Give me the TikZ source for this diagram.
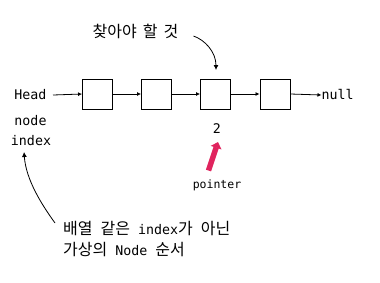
\documentclass[tikz,border=0pt]{standalone}
\usepackage{fontspec}
\setmainfont{DejaVu Sans Mono}
\newfontfamily\cjk{Noto Sans CJK KR}
\usetikzlibrary{arrows.meta}
\definecolor{ptrred}{HTML}{E0245E}
\newcommand\K[1]{{\cjk\fontsize{16}{21}\selectfont #1}}
\tikzset{
  cell/.style={draw, line width=0.9pt, minimum size=30pt, inner sep=0pt},
  lbl/.style={inner sep=0pt, font=\fontsize{13.3}{16}\selectfont},
  link/.style={line width=0.8pt, -{Latex[length=4pt,width=4pt]}},
  note/.style={line width=0.8pt, -{Latex[length=5pt,width=5pt]}},
}
\begin{document}
\begin{tikzpicture}[x=1pt,y=-1pt]
\useasboundingbox (0,0) rectangle (380,282);
\node[cell] (b1) at (97.5,94) {};
\node[cell] (b2) at (156.5,94) {};
\node[cell] (b3) at (215.5,94) {};
\node[cell] (b4) at (275,94) {};
\node[lbl, anchor=east] (head) at (46.5,95) {Head};
\node[lbl, anchor=west] (null) at (321.5,95) {null};
\draw[link] (head.east)++(6.5,0) coordinate (hs) -- (b1.west);
\draw[link] (b1) -- (b2);
\draw[link] (b2) -- (b3);
\draw[link] (b3) -- (b4);
\draw[link] (b4.east) -- (null.west);
\node[lbl] (nodeL) at (30.5,121) {node};
\node[lbl] (indexL) at (31,140.5) {index};
\node[lbl] (two) at (217,128.5) {2};
\node[inner sep=0pt, font=\fontsize{11.5}{14}\selectfont] (ptr) at (217,185.5) {pointer};
\coordinate (rtail) at (208.5,170.5);
\coordinate (rtip) at (218,142);
\draw[ptrred, line width=5.5pt, -{Triangle[length=6pt,width=11pt]}] (rtail) -- (rtip);
\node[inner sep=0pt, anchor=west] (find) at (92.5,31) {\K{찾아야} \K{할} \K{것}};
\coordinate (fs) at (193.5,36);
\draw[note] (fs) .. controls (205,40) and (216,52) .. (216,70);
\node[inner sep=0pt, anchor=north west, align=left, font=\fontsize{13.3}{21}\selectfont] (desc) at (63,221)
  {\K{배열} \K{같은} index\K{가} \K{아닌}\\\K{가상의} Node \K{순서}};
\coordinate (ds) at (55,223);
\draw[note] (ds) .. controls (42,205) and (26,180) .. (24,152);
\end{tikzpicture}
\end{document}
